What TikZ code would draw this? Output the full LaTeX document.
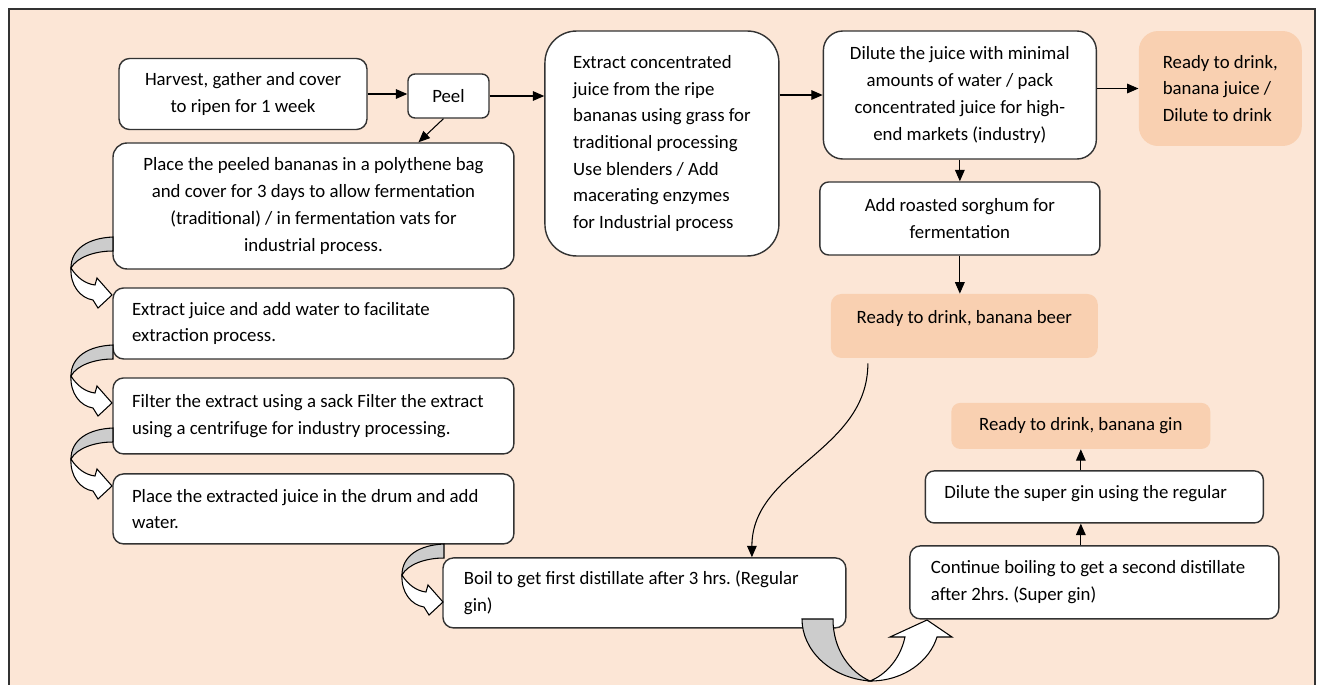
\documentclass[tikz,border=0pt]{standalone}
\usepackage{fontspec}
\setmainfont{Carlito}
\usetikzlibrary{positioning,arrows.meta}
\definecolor{peach}{HTML}{FCE6D6}
\definecolor{readyorange}{HTML}{F9D0B1}
\tikzset{step node/.style={rectangle,draw=black!80,line width=0.8pt,fill=white,rounded corners=6pt,align=center,inner sep=0pt} }
\tikzset{ready node/.style={rectangle,fill=readyorange,rounded corners=6pt,align=center,inner sep=0pt} }
\tikzset{flow line/.style={-{Triangle[length=6.5pt,width=5.5pt]},line width=0.6pt} }
% curved block arrow on the left of the steps
\tikzset{curl/.pic={
  \draw[fill=gray!40,line width=0.6pt] (0,0) .. controls (-25,1) and (-42,12) .. (-42,31) .. controls (-36,20) and (-18,14) .. (0,14) -- cycle;
  \draw[fill=white,line width=0.6pt] (-42,31) .. controls (-36,41) and (-27,47) .. (-18,48) -- (-16,41) -- (-1,58) -- (-15,71) -- (-20,63) .. controls (-33,61) and (-43,48) .. cycle;
} }

\begin{document}
\begin{tikzpicture}[x=0.02cm,y=-0.02cm,font=\fontsize{10.7}{15.2}\selectfont\frenchspacing]
\useasboundingbox (0,0) rectangle (1322,684);
\clip (0,0) rectangle (1322,684);
\draw[fill=peach,draw=black!80,line width=0.8pt] (9,9) rectangle (1315,700);

\begin{scope}[on grid]
  \node[step node,minimum width=4.96cm,minimum height=1.42cm] (1) at (243,94) {Harvest, gather and cover\\to ripen for 1 week};
  \node[step node,minimum width=1.62cm,minimum height=0.88cm,rounded corners=4pt] (2) [below right=0.04cm and 4.11cm of 1] {Peel};
  \node[step node,minimum width=8.02cm,minimum height=2.52cm,rounded corners=8pt] (3) [below right=2.24cm and 1.41cm of 1] {Place the peeled bananas in a polythene bag\\and cover for 3 days to allow fermentation\\(traditional) / in fermentation vats for\\industrial process.};
  \node[step node,align=left,minimum width=4.68cm,minimum height=4.5cm,rounded corners=18pt] (4) [below right=0.95cm and 4.27cm of 2] {Extract concentrated\\juice from the ripe\\bananas using grass for\\traditional processing\\Use blenders / Add\\macerating enzymes\\for Industrial process};
  \node[step node,minimum width=5.46cm,minimum height=2.56cm,rounded corners=11pt] (5) [above right=0.97cm and 5.96cm of 4] {Dilute the juice with minimal\\amounts of water / pack\\concentrated juice for high-\\end markets (industry)};
  \node[ready node,align=left,minimum width=3.26cm,minimum height=2.3cm,rounded corners=11pt] (6) [above right=0.13cm and 5.21cm of 5] {Ready to drink,\\banana juice /\\Dilute to drink};
  \node[step node,minimum width=5.6cm,minimum height=1.46cm,rounded corners=5pt] (7) [below=2.47cm of 5] {Add roasted sorghum for\\fermentation};
  \node[ready node,minimum width=5.34cm,minimum height=1.28cm,text height=7.5pt,text depth=10pt] (8) [below right=2.15cm and 0.09cm of 7] {Ready to drink, banana beer};

  \node[step node,align=flush left,text width=7.26cm,inner xsep=0.38cm,minimum height=1.42cm] (9) [below=2.35cm of 3] {Extract juice and add water to facilitate\\extraction process.};
  \node[step node,align=flush left,text width=7.26cm,inner xsep=0.38cm,minimum height=1.52cm] (10) [below=1.85cm of 9] {Filter the extract using a sack Filter the extract\\using a centrifuge for industry processing.};
  \node[step node,align=flush left,text width=7.26cm,inner xsep=0.38cm,minimum height=1.40cm] (11) [below=1.86cm of 10] {Place the extracted juice in the drum and add\\water.};
  \node[step node,align=flush left,text width=7.22cm,inner xsep=0.42cm,minimum height=1.40cm] (12) [below right=1.68cm and 6.62cm of 11] {Boil to get first distillate after 3 hrs. (Regular\\gin)};
  \node[step node,align=flush left,text width=6.54cm,inner xsep=0.42cm,minimum height=1.46cm] (13) [above right=0.21cm and 9.0cm of 12] {Continue boiling to get a second distillate\\after 2hrs. (Super gin)};
  \node[step node,align=flush left,text width=6.0cm,inner xsep=0.38cm,minimum height=1.04cm,rounded corners=5pt,text height=7.5pt,text depth=5.5pt] (14) [above=1.71cm of 13] {Dilute the super gin using the regular};
  \node[ready node,minimum width=5.18cm,minimum height=0.92cm,rounded corners=5pt] (15) [above left=1.42cm and 0.27cm of 14] {Ready to drink, banana gin};

  \path[flow line]
    (1.east) edge (1.east -| 2.west)
    (2.east) edge (2.east -| 4.west)
    ([xshift=-0.1cm]2.south) edge ([xshift=2.1cm]3.north)
    (4.east |- 5.west) edge (5.west)
    (5.east |- 6.west) edge (6.west)
    (5) edge (7)
    (7.south) edge (7.south |- 8.north)
    ([xshift=-1.93cm,yshift=-0.1cm]8.south) edge[out=-90,in=90] ([xshift=2.15cm]12.north)
    (13.north -| 15.south) edge (14.south -| 15.south)
    (14.north -| 15.south) edge (15.south)
    ;
\end{scope}

\pic at (113,237) {curl};
\pic at (113,345) {curl};
\pic at (113,428) {curl};
\pic at (444,544) {curl};

% u-turn from boiling to second distillate
\draw[fill=gray!40,line width=0.6pt] (802,619) .. controls (802,650) and (830,678) .. (870,681) .. controls (850,672) and (833,650) .. (833,619) -- cycle;
\draw[fill=white,line width=0.6pt] (870,681) .. controls (905,681) and (930,660) .. (937,637) -- (952,637) -- (927,620) -- (890,637) -- (905,637) .. controls (900,660) and (885,675) .. cycle;
\end{tikzpicture}
\end{document}
